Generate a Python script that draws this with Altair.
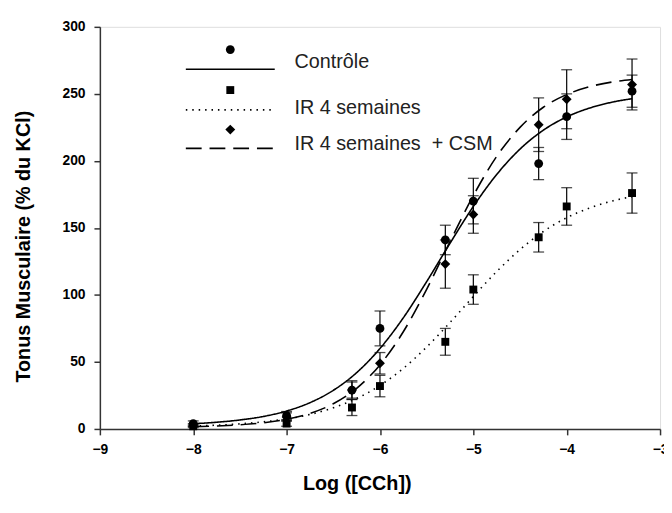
import altair as alt
import pandas as pd

# ---- data ----
log_cch = [-8, -7, -6.3, -6, -5.3, -5, -4.3, -4, -3.3]

ctrl_mean = [4, 10, 29, 75, 141, 170, 198, 233, 252]
ctrl_err = [2, 3, 6, 13, 11, 17, 12, 17, 12]
ir_mean = [2, 4, 16, 32, 65, 104, 143, 166, 176]
ir_err = [1, 2, 6, 8, 10, 11, 11, 14, 15]
csm_mean = [3, 9, 29, 49, 123, 160, 227, 246, 257]
csm_err = [1, 3, 7, 8, 18, 14, 20, 22, 19]

curve_x = [-8, -7.75, -7.5, -7.25, -7, -6.75, -6.5, -6.25, -6, -5.75,
           -5.5, -5.25, -5, -4.75, -4.5, -4.25, -4, -3.75, -3.5, -3.3]
ctrl_curve = [3.9, 5.0, 6.7, 9.3, 13.4, 19.6, 28.8, 42, 60, 82.9,
              109.9, 138.5, 166, 189.8, 208.8, 222.9, 232.8, 239.5, 244, 246.4]
ir_curve = [2.2, 2.8, 3.8, 5.3, 7.5, 10.8, 15.8, 22.7, 32.4, 45.2,
            61.1, 79.4, 98.8, 117.4, 133.8, 147.3, 157.6, 165, 170.3, 173.3]
csm_curve = [1.7, 2.2, 3.1, 4.6, 7.2, 11.6, 18.8, 30.3, 47.8, 72.5,
             104.2, 139.7, 174.1, 203.3, 225, 240, 249.5, 255.4, 259, 260.7]

legend_labels = ["Contrôle", "IR 4 semaines", "IR 4 semaines\u00a0 + CSM"]

FONT = "Liberation Sans"

def pts_df(mean, err):
    return pd.DataFrame({
        "x": log_cch,
        "y": mean,
        "lo": [m - e for m, e in zip(mean, err)],
        "hi": [m + e for m, e in zip(mean, err)],
    })

xscale = alt.Scale(domain=[-9, -3], nice=False, zero=False)
yscale = alt.Scale(domain=[0, 300], nice=False)

xaxis = alt.Axis(
    values=[-9, -8, -7, -6, -5, -4, -3], format="d", grid=False,
    title="Log ([CCh])", titleFont=FONT, titleFontSize=20, titleFontWeight="bold",
    titleColor="#000", titleX=260, titleY=45, titleBaseline="top", titleAlign="center",
    labelFont=FONT, labelFontSize=14, labelFontWeight="bold", labelColor="#000",
    labelPadding=8, tickSize=6, tickColor="#333", domainColor="#333",
    domainWidth=1.5, tickWidth=1.5, labelFlush=False,
)
yaxis = alt.Axis(
    values=[0, 50, 100, 150, 200, 250, 300], grid=False,
    title="Tonus Musculaire (% du KCl)", titleFont=FONT, titleFontSize=20,
    titleFontWeight="bold", titleColor="#000", titleX=-77, titleY=222,
    titleAngle=270, titleBaseline="middle", titleAlign="center",
    labelFont=FONT, labelFontSize=14, labelFontWeight="bold", labelColor="#000",
    labelPadding=9, tickSize=6, tickColor="#333", domainColor="#333",
    domainWidth=1.5, tickWidth=1.5,
)

X = alt.X("x:Q", scale=xscale, axis=xaxis)
Y = alt.Y("y:Q", scale=yscale, axis=yaxis)

layers = []

def curve(vals, dash):
    df = pd.DataFrame({"x": curve_x, "y": vals})
    return alt.Chart(df).mark_line(
        color="black", strokeWidth=1.6, strokeDash=dash, interpolate="monotone"
    ).encode(x=X, y=Y)

layers.append(curve(ctrl_curve, [1, 0]))
layers.append(curve(ir_curve, [1.5, 5]))
layers.append(curve(csm_curve, [16, 8]))

def points(mean, err, shape, size):
    df = pts_df(mean, err)
    base = alt.Chart(df)
    rule = base.mark_rule(color="black", strokeWidth=1.2).encode(
        x=X, y=alt.Y("lo:Q", scale=yscale, axis=yaxis), y2="hi:Q")
    cap_hi = base.mark_tick(color="black", orient="horizontal", size=11, thickness=1.3).encode(
        x=X, y=alt.Y("hi:Q", scale=yscale, axis=yaxis))
    cap_lo = base.mark_tick(color="black", orient="horizontal", size=11, thickness=1.3).encode(
        x=X, y=alt.Y("lo:Q", scale=yscale, axis=yaxis))
    pt = base.mark_point(shape=shape, filled=True, color="black", size=size, opacity=1).encode(
        x=X, y=Y)
    return [rule, cap_hi, cap_lo, pt]

layers += points(ctrl_mean, ctrl_err, "circle", 80)
layers += points(ir_mean, ir_err, "square", 64)
layers += points(csm_mean, csm_err, "diamond", 100)

# ---- hand-drawn style legend (marker above line sample, text to the right) ----
one = alt.Data(values=[{"k": 0}])
leg_y = [(23, 43, 36), (64, 84, 82), (104, 123, 119)]
shapes = [("circle", 80), ("square", 64), ("diamond", 100)]
dashes = [[1, 0], [1.5, 5], [16, 8]]
for (my, ly, ty), (shp, sz), dash, lab in zip(leg_y, shapes, dashes, legend_labels):
    layers.append(alt.Chart(one).mark_point(shape=shp, filled=True, color="black",
                                            size=sz, opacity=1).encode(
        x=alt.value(132), y=alt.value(my)))
    layers.append(alt.Chart(one).mark_rule(color="black", strokeWidth=1.6,
                                           strokeDash=dash).encode(
        x=alt.value(87), x2=alt.value(177), y=alt.value(ly)))
    layers.append(alt.Chart(one).mark_text(text=lab, font=FONT, fontSize=20,
                                           align="left", baseline="middle",
                                           color="#222").encode(
        x=alt.value(197), y=alt.value(ty)))

chart = alt.layer(*layers).properties(
    width=567, height=407,
    padding={"left": 93, "top": 16, "right": 4, "bottom": 82},
    autosize=alt.AutoSizeParams(type="none"),
).configure_view(stroke=None).configure(background="white")

chart.save("out.html", embed_options={"renderer": "svg", "actions": False})
